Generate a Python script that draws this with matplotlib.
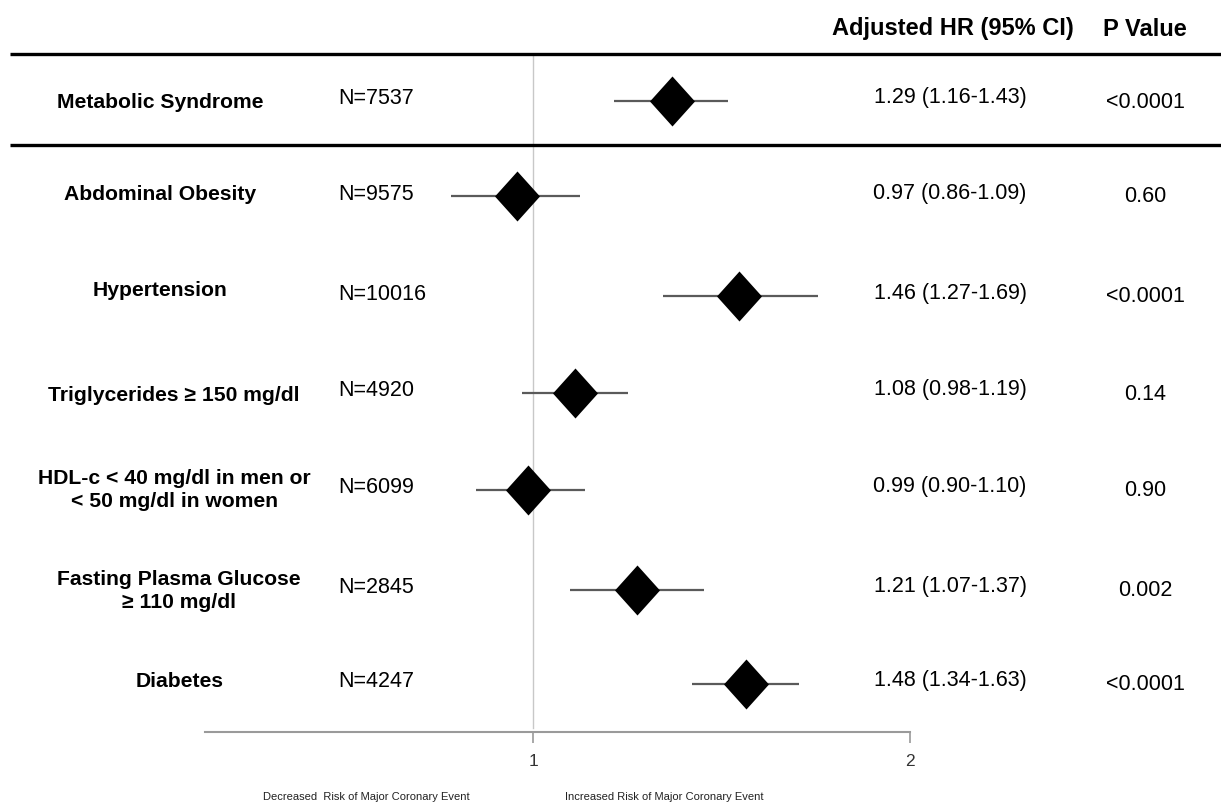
import matplotlib
matplotlib.use("Agg")
import matplotlib.pyplot as plt
from matplotlib.lines import Line2D
from matplotlib.path import Path

plt.rcParams["font.family"] = ["Liberation Sans", "DejaVu Sans"]

# ---- data ----
factors = [
    "Metabolic Syndrome",
    "Abdominal Obesity",
    "Hypertension",
    "Triglycerides \u2265 150 mg/dl",
    "HDL-c < 40 mg/dl in men or\n< 50 mg/dl in women",
    "Fasting Plasma Glucose\n\u2265 110 mg/dl",
    "Diabetes",
]
n_subjects = [7537, 9575, 10016, 4920, 6099, 2845, 4247]
hr = [1.29, 0.97, 1.46, 1.08, 0.99, 1.21, 1.48]
ci_low = [1.16, 0.86, 1.27, 0.98, 0.90, 1.07, 1.34]
ci_high = [1.43, 1.09, 1.69, 1.19, 1.10, 1.37, 1.63]
p_values = ["<0.0001", "0.60", "<0.0001", "0.14", "0.90", "0.002", "<0.0001"]
tick_values = [1, 2]
tick_labels = ["1", "2"]

# ---- layout (pixel units on a 1221 x 804 canvas) ----
W, H = 1221, 804
row_y = [102, 197, 297, 394, 491, 591, 685]
label_x = [160, 160, 160, 174, 174, 179, 180]
label_dy = [0, -3, -6, 2, -1, 0, -3]
n_x = 338
hr_x = 950
p_x = 1145


def fx(x):
    return x / W


def fy(y):
    return 1 - y / H


fig = plt.figure(figsize=(W / 100, H / 100), dpi=100)
fig.patch.set_facecolor("white")

ax = fig.add_axes([fx(205), fy(733), fx(910) - fx(205), fy(55) - fy(733)])
ax.set_xscale("log", base=2)
ax.set_xlim(0.547, 2)
ax.set_ylim(733, 55)
ax.set_facecolor("none")

# reference line at HR = 1
ax.axvline(1, ymin=0.006, ymax=1, color="#c8c8c8", lw=1.0, zorder=1)

# confidence intervals and point estimates
ax.hlines(row_y, ci_low, ci_high, color="#5a5a5a", lw=1.6, zorder=2)
diamond = Path([(0, 1), (0.9, 0), (0, -1), (-0.9, 0), (0, 1)],
               [Path.MOVETO, Path.LINETO, Path.LINETO, Path.LINETO, Path.CLOSEPOLY])
ax.plot(hr, row_y, linestyle="none", marker=diamond, markersize=36,
        color="black", markeredgewidth=0, zorder=3)

# axis styling
for side in ("top", "left", "right"):
    ax.spines[side].set_visible(False)
ax.spines["bottom"].set_color("#9a9a9a")
ax.spines["bottom"].set_linewidth(1.5)
ax.set_xticks(tick_values)
ax.set_xticklabels(tick_labels)
ax.xaxis.set_minor_locator(matplotlib.ticker.NullLocator())
ax.tick_params(axis="x", length=8, width=1.2, color="#9a9a9a",
               labelsize=12.5, pad=7, labelcolor="#333333")
ax.set_yticks([])

# horizontal rules
for yy in (55, 146):
    fig.add_artist(Line2D([fx(10), 1.0], [fy(yy), fy(yy)], color="black",
                          lw=2.4, solid_capstyle="butt"))

# column headers
fig.text(fx(953), fy(29), "Adjusted HR (95% CI)", ha="center", va="center",
         fontsize=17, fontweight="bold")
fig.text(fx(p_x), fy(29), "P Value", ha="center", va="center",
         fontsize=17, fontweight="bold")

# table text
for i, name in enumerate(factors):
    y = row_y[i]
    fig.text(fx(label_x[i]), fy(y + label_dy[i]), name, ha="center", va="center",
             fontsize=15.2, fontweight="bold", linespacing=1.3)
    fig.text(fx(n_x), fy(y - 3), f"N={n_subjects[i]}", ha="left", va="center",
             fontsize=15.5)
    fig.text(fx(hr_x), fy(y - 4),
             f"{hr[i]:.2f} ({ci_low[i]:.2f}-{ci_high[i]:.2f})",
             ha="center", va="center", fontsize=15.5)
    fig.text(fx(p_x), fy(y), p_values[i], ha="center", va="center",
             fontsize=15.5)

# direction captions under the axis
fig.text(fx(366), fy(797), "Decreased  Risk of Major Coronary Event",
         ha="center", va="center", fontsize=8, color="#222222")
fig.text(fx(664), fy(797), "Increased Risk of Major Coronary Event",
         ha="center", va="center", fontsize=8, color="#222222")

fig.savefig("out.png", dpi=100, facecolor="white")
